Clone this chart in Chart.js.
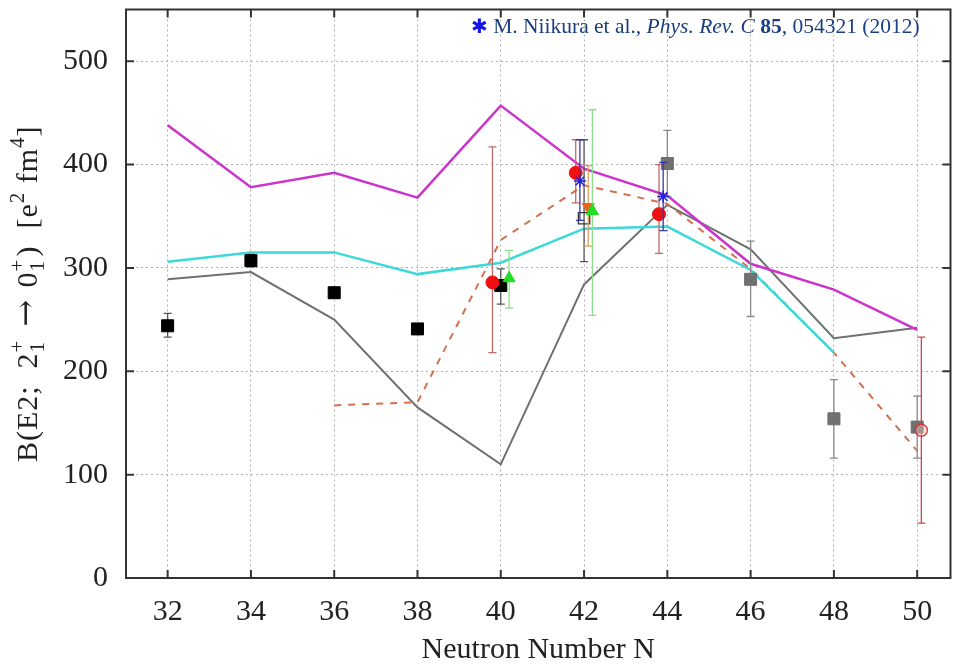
<!DOCTYPE html>
<html>
<head>
<meta charset="utf-8">
<script src="https://cdn.jsdelivr.net/npm/chart.js@4.4.1/dist/chart.umd.min.js"></script>
<style>
  html, body { margin: 0; padding: 0; background: #fff; }
  #wrap { width: 960px; height: 669px; position: relative; }
</style>
</head>
<body>
<div id="wrap"><canvas id="chart"></canvas></div>
<script>
/* =========================
   DATA
========================= */
const xTicks = [32, 34, 36, 38, 40, 42, 44, 46, 48, 50];
const yTicks = [0, 100, 200, 300, 400, 500];

// theory curves
const magentaN = [32, 34, 36, 38, 40, 42, 44, 46, 48, 50];
const magentaB = [438, 378, 392, 368, 457, 396, 370, 304, 279, 240];
const cyanN = [32, 34, 36, 38, 40, 42, 44, 46, 48];
const cyanB = [306, 315, 315, 294, 305, 338, 340, 298, 218];
const grayN = [32, 34, 36, 38, 40, 42, 44, 46, 48, 50];
const grayB = [289, 296, 250, 165, 110, 284, 361, 318, 232, 242];
const dashN = [36, 38, 40, 42, 44, 46, 48, 50];
const dashB = [167, 170, 327, 380, 362, 299, 218, 123];

// experimental points (value, lower and upper end of error bar)
const blackN = [32, 34, 36, 38, 40];
const blackB = [244, 307, 276, 241, 283];
const blackLo = [233, 301, 276, 241, 265];
const blackHi = [256, 313, 276, 241, 299];

const graySqN = [44, 46, 48, 50];
const graySqB = [401, 289, 154, 146];
const graySqLo = [369, 253, 116, 116];
const graySqHi = [433, 326, 192, 176];

const redN = [39.8, 41.8, 43.8];
const redB = [286, 392, 352];
const redLo = [218, 363, 314];
const redHi = [417, 424, 400];

const redOpenN = [50.1];
const redOpenB = [143];
const redOpenLo = [53];
const redOpenHi = [233];

const greenN = [40.2, 42.2];
const greenB = [290, 355];
const greenLo = [261, 254];
const greenHi = [317, 453];

const orangeN = [42.1];
const orangeB = [359];
const orangeLo = [321];
const orangeHi = [399];

const openSqN = [42.0];
const openSqB = [348];
const openSqLo = [306];
const openSqHi = [424];

const starN = [41.9, 43.9];
const starB = [384, 369];
const starLo = [346, 336];
const starHi = [424, 402];

const pts = (xs, ys) => xs.map((v, i) => ({ x: v, y: ys[i] }));

/* =========================
   PLUGINS
========================= */
const errorBars = {
  id: 'errorBars',
  beforeDatasetDraw(chart, args) {
    const ds = chart.data.datasets[args.index];
    if (!ds.errLo) return;
    const { ctx, scales: { x, y } } = chart;
    ctx.save();
    ctx.strokeStyle = ds.errColor;
    ctx.lineWidth = 1.3;
    ds.data.forEach((p, i) => {
      const px = x.getPixelForValue(p.x);
      const lo = y.getPixelForValue(ds.errLo[i]);
      const hi = y.getPixelForValue(ds.errHi[i]);
      if (lo - hi < 1) return;
      ctx.beginPath();
      ctx.moveTo(px, lo); ctx.lineTo(px, hi);
      ctx.moveTo(px - 4, lo); ctx.lineTo(px + 4, lo);
      ctx.moveTo(px - 4, hi); ctx.lineTo(px + 4, hi);
      ctx.stroke();
    });
    ctx.restore();
  }
};

// gnuplot style frame with inward ticks on all four sides
const frame = {
  id: 'frame',
  afterDatasetsDraw(chart) {
    const { ctx, chartArea: a, scales: { x, y } } = chart;
    ctx.save();
    ctx.strokeStyle = '#333';
    ctx.lineWidth = 2;
    ctx.strokeRect(a.left, a.top, a.right - a.left, a.bottom - a.top);
    ctx.beginPath();
    xTicks.forEach(v => {
      const px = x.getPixelForValue(v);
      ctx.moveTo(px, a.bottom); ctx.lineTo(px, a.bottom - 8);
      ctx.moveTo(px, a.top); ctx.lineTo(px, a.top + 8);
    });
    yTicks.forEach(v => {
      const py = y.getPixelForValue(v);
      ctx.moveTo(a.left, py); ctx.lineTo(a.left + 8, py);
      ctx.moveTo(a.right, py); ctx.lineTo(a.right - 8, py);
    });
    ctx.stroke();
    ctx.restore();
  }
};

// y title with stacked sub/superscripts + reference note
const texts = {
  id: 'texts',
  afterDraw(chart) {
    const { ctx, chartArea: a } = chart;
    const big = '30px "Liberation Serif"';
    const small = '21px "Liberation Serif"';
    const parts = [
      { t: 'B(E2;  2', f: big, dy: 0 },
      { stack: ['+', '1'] },
      { t: ' \u2192 ', f: '32px "DejaVu Serif"', dy: -1 },
      { t: '0', f: big, dy: 0 },
      { stack: ['+', '1'] },
      { t: ')  [e', f: big, dy: 0 },
      { t: '2', f: small, dy: -13 },
      { t: ' fm', f: big, dy: 0 },
      { t: '4', f: small, dy: -13 },
      { t: ']', f: big, dy: 0 }
    ];
    ctx.save();
    ctx.letterSpacing = '1px';
    const widthOf = p => {
      if (p.stack) {
        ctx.font = small;
        return Math.max(ctx.measureText(p.stack[0]).width, ctx.measureText(p.stack[1]).width) + 2;
      }
      ctx.font = p.f;
      return ctx.measureText(p.t).width;
    };
    const total = parts.reduce((s, p) => s + widthOf(p), 0);
    ctx.translate(37, (a.top + a.bottom) / 2);
    ctx.rotate(-Math.PI / 2);
    ctx.fillStyle = '#222';
    ctx.textBaseline = 'alphabetic';
    let u = -total / 2;
    parts.forEach(p => {
      const w = widthOf(p);
      if (p.stack) {
        ctx.font = small;
        ctx.fillText(p.stack[0], u, -13);
        ctx.fillText(p.stack[1], u, 7);
      } else {
        ctx.font = p.f;
        ctx.fillText(p.t, u, p.dy);
      }
      u += w;
    });
    ctx.restore();

    // reference note
    const note = [
      { t: '\u2731', f: 'bold 20px "DejaVu Sans"', c: '#1414e6' },
      { t: ' M. Niikura et al., ', f: '21.5px "Liberation Serif"', c: '#1b3e80' },
      { t: 'Phys. Rev. C', f: 'italic 21.5px "Liberation Serif"', c: '#1b3e80' },
      { t: ' ', f: '21.5px "Liberation Serif"', c: '#1b3e80' },
      { t: '85', f: 'bold 21.5px "Liberation Serif"', c: '#1b3e80' },
      { t: ', 054321 (2012)', f: '21.5px "Liberation Serif"', c: '#1b3e80' }
    ];
    ctx.save();
    ctx.textBaseline = 'alphabetic';
    let nx = 471;
    note.forEach(p => {
      ctx.font = p.f;
      ctx.fillStyle = p.c;
      ctx.fillText(p.t, nx, 33);
      nx += ctx.measureText(p.t).width;
    });
    ctx.restore();
  }
};

/* =========================
   CHART
========================= */
const ctx = document.getElementById('chart').getContext('2d');
const chart = new Chart(ctx, {
  type: 'scatter',
  data: {
    datasets: [
      {
        label: 'star', data: pts(starN, starB), errLo: starLo, errHi: starHi, errColor: '#3a3aa8',
        pointStyle: 'star', pointRadius: 6, borderColor: '#2222dd', borderWidth: 1.5, backgroundColor: '#2222dd'
      },
      {
        label: 'red', data: pts(redN, redB), errLo: redLo, errHi: redHi, errColor: '#c06a6a',
        pointStyle: 'circle', pointRadius: 6.5, borderColor: '#ee1111', backgroundColor: '#ee1111', borderWidth: 1
      },
      {
        label: 'redOpen', data: pts(redOpenN, redOpenB), errLo: redOpenLo, errHi: redOpenHi, errColor: '#d04545',
        pointStyle: 'circle', pointRadius: 6, borderColor: '#d83030', backgroundColor: 'rgba(255,200,200,0.4)', borderWidth: 1.3
      },
      {
        label: 'green', data: pts(greenN, greenB), errLo: greenLo, errHi: greenHi, errColor: '#8ede8e',
        pointStyle: 'triangle', pointRadius: 7, borderColor: '#22dd22', backgroundColor: '#22dd22', borderWidth: 1
      },
      {
        label: 'orange', data: pts(orangeN, orangeB), errLo: orangeLo, errHi: orangeHi, errColor: '#e0a060',
        pointStyle: 'triangle', rotation: 180, pointRadius: 7, borderColor: '#e8641e', backgroundColor: '#e8641e', borderWidth: 1
      },
      {
        label: 'openSq', data: pts(openSqN, openSqB), errLo: openSqLo, errHi: openSqHi, errColor: '#555',
        pointStyle: 'rect', pointRadius: 8, borderColor: '#333', backgroundColor: 'rgba(0,0,0,0)', borderWidth: 1.3
      },
      {
        label: 'black', data: pts(blackN, blackB), errLo: blackLo, errHi: blackHi, errColor: '#555',
        pointStyle: 'rect', pointRadius: 8.5, borderColor: '#000', backgroundColor: '#000', borderWidth: 1
      },
      {
        label: 'graySq', data: pts(graySqN, graySqB), errLo: graySqLo, errHi: graySqHi, errColor: '#8a8a8a',
        pointStyle: 'rect', pointRadius: 8.5, borderColor: '#707070', backgroundColor: '#707070', borderWidth: 1
      },
      {
        label: 'magenta', data: pts(magentaN, magentaB), showLine: true, pointRadius: 0,
        borderColor: '#cc33cc', borderWidth: 2.5
      },
      {
        label: 'cyan', data: pts(cyanN, cyanB), showLine: true, pointRadius: 0,
        borderColor: '#3dd8d8', borderWidth: 2.5
      },
      {
        label: 'dashed', data: pts(dashN, dashB), showLine: true, pointRadius: 0,
        borderColor: '#d2704f', borderWidth: 2, borderDash: [7, 7]
      },
      {
        label: 'gray', data: pts(grayN, grayB), showLine: true, pointRadius: 0,
        borderColor: '#707070', borderWidth: 2
      }
    ]
  },
  options: {
    animation: false,
    responsive: true,
    maintainAspectRatio: false,
    layout: { padding: { top: 6, right: 9, bottom: 0, left: 0 } },
    plugins: { legend: { display: false }, tooltip: { enabled: false } },
    scales: {
      x: {
        type: 'linear', min: 31, max: 50.8,
        afterBuildTicks: axis => { axis.ticks = xTicks.map(v => ({ value: v })); },
        afterFit: axis => { axis.height = 91; axis.paddingLeft = 0; axis.paddingRight = 0; },
        grid: { color: '#b0b0b0', lineWidth: 1, drawTicks: false },
        border: { display: false, dash: [2, 3] },
        ticks: { padding: 16, color: '#222', font: { family: 'Liberation Serif', size: 30 } },
        title: {
          display: true, text: 'Neutron Number N', color: '#222',
          font: { family: 'Liberation Serif', size: 30 }, padding: { top: 0, bottom: 1 }
        }
      },
      y: {
        type: 'linear', min: 0, max: 550,
        afterBuildTicks: axis => { axis.ticks = yTicks.map(v => ({ value: v })); },
        afterFit: axis => { axis.width = 126; axis.paddingTop = 0; axis.paddingBottom = 0; },
        grid: { color: '#b0b0b0', lineWidth: 1, drawTicks: false },
        border: { display: false, dash: [2, 3] },
        ticks: { padding: 18, color: '#222', font: { family: 'Liberation Serif', size: 30 } }
      }
    }
  },
  plugins: [errorBars, frame, texts]
});
</script>
</body>
</html>
